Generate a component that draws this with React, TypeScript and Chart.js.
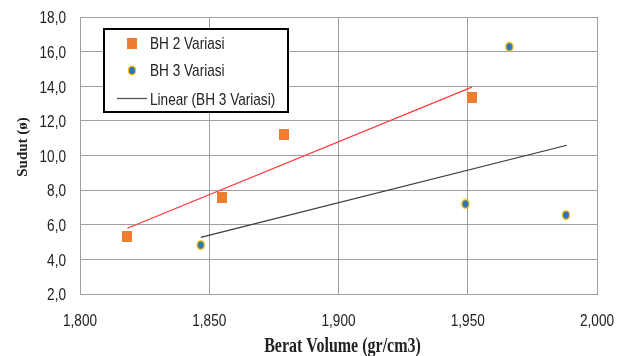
import React, { useEffect, useRef } from 'react';
import { Chart, registerables } from 'chart.js';

Chart.register(...registerables);

// ---- data ----
const bh2X = [1.8183, 1.8548, 1.8788, 1.9516];
const bh2Y = [5.3, 7.6, 11.2, 13.35];
const bh3X = [1.8467, 1.9491, 1.9661, 1.988];
const bh3Y = [4.83, 7.2, 16.28, 6.56];
const trendBh2X = [1.8183, 1.9516];
const trendBh2Y = [5.8, 13.95];
const trendBh3X = [1.8467, 1.9883];
const trendBh3Y = [5.27, 10.59];
const seriesNames = ['BH 2 Variasi', 'BH 3 Variasi', 'Linear (BH 3 Variasi)'];
const xTickValues = [1.8, 1.85, 1.9, 1.95, 2.0];
const yTickValues = [2, 4, 6, 8, 10, 12, 14, 16, 18];
const xTitle = 'Berat Volume (gr/cm3)';
const yTitle = 'Sudut (ø)';

const ORANGE = '#ED7D31';
const BLUE = '#2E75B6';
const GOLD = '#FFC000';
const RED = '#FF3B3B';
const DARK = '#3a3a3a';
const GRID = '#a0a0a0';
const TEXT = '#222222';
const SANS = '"Liberation Sans", Arial, sans-serif';
const SERIF = '"Liberation Serif", "Times New Roman", serif';
const SQUEEZE = 0.8;

const fmtX = (v: number) => Number(v).toFixed(3).replace('.', ',');
const fmtY = (v: number) => Number(v).toFixed(1).replace('.', ',');

function makeSquare(): HTMLCanvasElement {
  const c = document.createElement('canvas');
  c.width = 10;
  c.height = 11;
  const g = c.getContext('2d')!;
  g.fillStyle = ORANGE;
  g.fillRect(0, 0, 10, 11);
  return c;
}

function makeDot(): HTMLCanvasElement {
  const c = document.createElement('canvas');
  c.width = 10;
  c.height = 11;
  const g = c.getContext('2d')!;
  g.beginPath();
  g.ellipse(5, 5.5, 3.6, 4.3, 0, 0, Math.PI * 2);
  g.fillStyle = BLUE;
  g.fill();
  g.lineWidth = 1.2;
  g.strokeStyle = GOLD;
  g.stroke();
  return c;
}

function squeezedText(
  ctx: CanvasRenderingContext2D,
  text: string,
  x: number,
  y: number,
  align: CanvasTextAlign,
  font: string,
  sx = SQUEEZE,
) {
  ctx.save();
  ctx.translate(x, y);
  ctx.scale(sx, 1);
  ctx.font = font;
  ctx.textAlign = align;
  ctx.textBaseline = 'alphabetic';
  ctx.fillStyle = TEXT;
  ctx.fillText(text, 0, 0);
  ctx.restore();
}

const zeroPad = (s: any) => {
  s.paddingTop = 0;
  s.paddingBottom = 0;
  s.paddingLeft = 0;
  s.paddingRight = 0;
};

export default function App() {
  const ref = useRef<HTMLCanvasElement | null>(null);

  useEffect(() => {
    document.body.style.margin = '0';
    const canvas = ref.current;
    if (!canvas) return;
    const square = makeSquare();
    const dot = makeDot();

    const textPlugin = {
      id: 'axisTextAndLegend',
      afterDraw(chart: any) {
        const ctx = chart.ctx as CanvasRenderingContext2D;
        const xs = chart.scales.x;
        const ys = chart.scales.y;
        const area = chart.chartArea;
        const tickFont = `17px ${SANS}`;

        // tick labels through the scales
        xs.ticks.forEach((t: any) => {
          squeezedText(ctx, fmtX(t.value), xs.getPixelForValue(t.value), area.bottom + 32, 'center', tickFont);
        });
        ys.ticks.forEach((t: any) => {
          squeezedText(ctx, fmtY(t.value), area.left - 14, ys.getPixelForValue(t.value) + 6.3, 'right', tickFont);
        });

        // axis titles
        squeezedText(ctx, xTitle, (area.left + area.right) / 2 + 4, 351.5, 'center', `bold 20px ${SERIF}`);
        ctx.save();
        ctx.translate(27, (area.top + area.bottom) / 2 - 8.5);
        ctx.rotate(-Math.PI / 2);
        ctx.font = `bold 15px ${SERIF}`;
        ctx.textAlign = 'center';
        ctx.textBaseline = 'alphabetic';
        ctx.fillStyle = TEXT;
        ctx.fillText(yTitle, 0, 0);
        ctx.restore();

        // legend
        ctx.save();
        ctx.fillStyle = '#ffffff';
        ctx.fillRect(104, 29, 184, 83);
        ctx.lineWidth = 2;
        ctx.strokeStyle = '#000000';
        ctx.strokeRect(104, 29, 184, 83);
        ctx.drawImage(square, 127, 38);
        ctx.drawImage(dot, 127, 65);
        ctx.beginPath();
        ctx.moveTo(117, 98.5);
        ctx.lineTo(147, 98.5);
        ctx.lineWidth = 1.3;
        ctx.strokeStyle = '#555555';
        ctx.stroke();
        ctx.restore();
        squeezedText(ctx, seriesNames[0], 150, 49.3, 'left', tickFont);
        squeezedText(ctx, seriesNames[1], 150, 76, 'left', tickFont);
        squeezedText(ctx, seriesNames[2], 150, 105, 'left', tickFont);
      },
    };

    const chart = new Chart(canvas, {
      type: 'scatter',
      data: {
        datasets: [
          {
            label: seriesNames[0],
            data: bh2X.map((x, i) => ({ x, y: bh2Y[i] })),
            pointStyle: square as any,
            pointRadius: 6,
            order: 0,
          },
          {
            label: seriesNames[1],
            data: bh3X.map((x, i) => ({ x, y: bh3Y[i] })),
            pointStyle: dot as any,
            pointRadius: 6,
            order: 0,
          },
          {
            label: 'Linear (BH 2 Variasi)',
            data: trendBh2X.map((x, i) => ({ x, y: trendBh2Y[i] })),
            showLine: true,
            borderColor: RED,
            borderWidth: 1.2,
            pointRadius: 0,
            order: 1,
          },
          {
            label: seriesNames[2],
            data: trendBh3X.map((x, i) => ({ x, y: trendBh3Y[i] })),
            showLine: true,
            borderColor: DARK,
            borderWidth: 1.2,
            pointRadius: 0,
            order: 1,
          },
        ],
      },
      options: {
        animation: false,
        responsive: false,
        maintainAspectRatio: false,
        layout: { padding: { top: 17, right: 33, left: 0, bottom: 0 } },
        plugins: {
          legend: { display: false },
          tooltip: { enabled: false },
        },
        scales: {
          x: {
            type: 'linear',
            min: 1.8,
            max: 2.0,
            afterBuildTicks: (s: any) => {
              s.ticks = xTickValues.map((v) => ({ value: v }));
            },
            afterFit: (s: any) => {
              s.height = 62;
              zeroPad(s);
            },
            grid: { color: GRID, drawTicks: false, lineWidth: 1 },
            border: { color: GRID, width: 1 },
            ticks: { display: false },
            title: { display: false },
          },
          y: {
            type: 'linear',
            min: 2,
            max: 18,
            afterBuildTicks: (s: any) => {
              s.ticks = yTickValues.map((v) => ({ value: v }));
            },
            afterFit: (s: any) => {
              s.width = 80;
              zeroPad(s);
            },
            grid: { color: GRID, drawTicks: false, lineWidth: 1 },
            border: { color: GRID, width: 1 },
            ticks: { display: false },
            title: { display: false },
          },
        },
      },
      plugins: [textPlugin],
    } as any);

    return () => chart.destroy();
  }, []);

  return (
    <div style={{ width: 630, height: 356, position: 'relative' }}>
      <canvas ref={ref} width={630} height={356} style={{ display: 'block' }} />
    </div>
  );
}
